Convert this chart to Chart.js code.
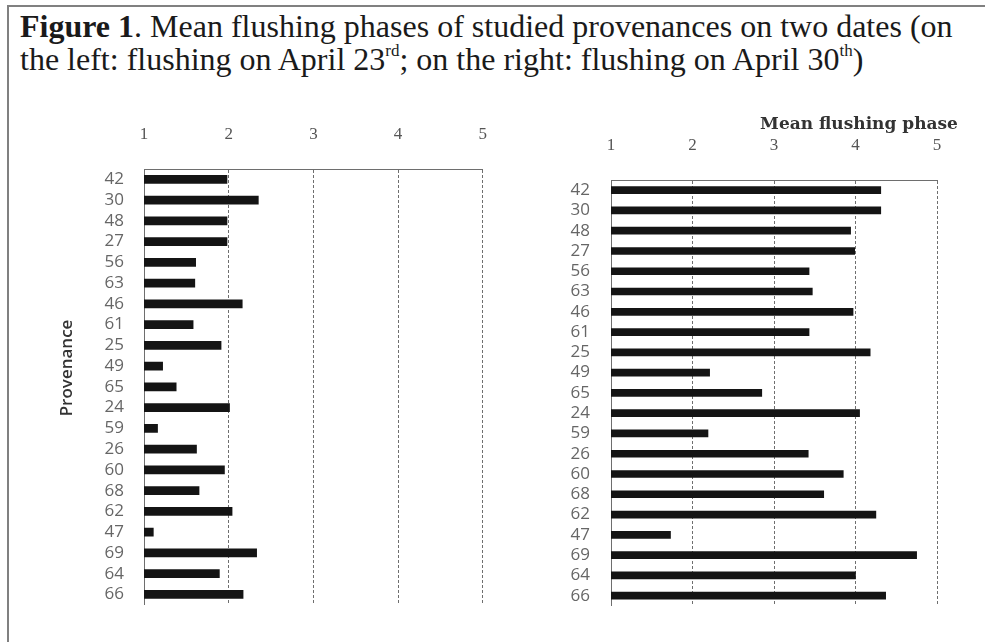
<!DOCTYPE html>
<html>
<head>
<meta charset="utf-8">
<script src="https://cdn.jsdelivr.net/npm/chart.js@4/dist/chart.umd.min.js"></script>
<style>
  html, body { margin: 0; padding: 0; background: #fff; }
  body { width: 985px; height: 642px; position: relative; overflow: hidden; }
  .frame-top { position: absolute; left: 7px; top: 5px; width: 978px; height: 2px; background: #808080; }
  .frame-left { position: absolute; left: 7px; top: 5px; width: 2px; height: 637px; background: #808080; }
  .caption {
    position: absolute; left: 20px; top: 10px;
    font-family: "Liberation Serif", "Times New Roman", serif;
    font-size: 32px; line-height: 33px; color: #1a1a1a; white-space: nowrap;
  }
  .caption sup { font-size: 17px; line-height: 0; vertical-align: 0; position: relative; top: -14px; }
  canvas { position: absolute; }
  #left { left: 0px; top: 90px; }
  #right { left: 520px; top: 90px; }
</style>
</head>
<body>
<div class="frame-top"></div>
<div class="frame-left"></div>
<div class="caption"><b>Figure 1</b>. Mean flushing phases of studied provenances on two dates (on<br>the left: flushing on April 23<sup>rd</sup>; on the right: flushing on April 30<sup>th</sup>)</div>
<canvas id="left" width="511" height="545"></canvas>
<canvas id="right" width="465" height="547"></canvas>
<script>
// Provenances, top to bottom
const provenances = ['42','30','48','27','56','63','46','61','25','49','65','24','59','26','60','68','62','47','69','64','66'];
// Mean flushing phase on April 23rd
const phaseApr23 = [1.98,2.35,1.98,1.98,1.61,1.60,2.16,1.58,1.91,1.22,1.38,2.01,1.16,1.62,1.95,1.65,2.04,1.11,2.33,1.89,2.17];
// Mean flushing phase on April 30th
const phaseApr30 = [4.31,4.31,3.94,3.99,3.43,3.47,3.97,3.43,4.18,2.21,2.85,4.05,2.19,3.42,3.85,3.61,4.25,1.73,4.75,4.00,4.37];
// Phase scale ticks
const phaseTicks = [1,2,3,4,5];

const PHASE_MIN = phaseTicks[0];
const PHASE_MAX = phaseTicks[phaseTicks.length - 1];

// free-standing labels drawn on a chart's canvas
const freeText = {
  id: 'freeText',
  afterDraw(chart, args, opts) {
    if (!opts.items) return;
    const ctx = chart.ctx;
    opts.items.forEach(it => {
      ctx.save();
      ctx.font = it.font;
      ctx.fillStyle = it.color;
      ctx.textAlign = 'center';
      ctx.textBaseline = 'middle';
      ctx.translate(it.x, it.y);
      if (it.rotate) ctx.rotate(it.rotate);
      ctx.fillText(it.text, 0, 0);
      ctx.restore();
    });
  }
};

function makeChart(id, values, cfg) {
  return new Chart(document.getElementById(id), {
    type: 'bar',
    data: {
      labels: provenances,
      datasets: [{
        data: values.map(v => [PHASE_MIN, v]),
        backgroundColor: '#141414',
        borderWidth: 0,
        barThickness: cfg.barThickness,
        categoryPercentage: 1,
        barPercentage: 1
      }]
    },
    options: {
      indexAxis: 'y',
      responsive: false,
      animation: false,
      layout: { padding: cfg.padding },
      plugins: {
        legend: { display: false },
        tooltip: { enabled: false },
        freeText: { items: cfg.texts }
      },
      scales: {
        x: {
          position: 'top',
          min: PHASE_MIN,
          max: PHASE_MAX,
          afterBuildTicks(scale) { scale.ticks = phaseTicks.map(v => ({ value: v })); },
          afterFit(scale) { scale.height = cfg.topAxisHeight; },
          grid: { color: '#6e6e6e', lineWidth: 1, drawTicks: false, drawOnChartArea: true },
          border: { display: true, color: '#6e6e6e', dash: [3, 2] },
          ticks: {
            padding: cfg.xTickPad,
            color: '#555',
            font: { family: '"Liberation Serif", serif', size: 17 }
          }
        },
        y: {
          afterFit(scale) { scale.width = cfg.leftAxisWidth; },
          grid: { display: false, drawTicks: false },
          border: { display: true, color: '#6e6e6e', dash: [3, 2] },
          ticks: {
            padding: cfg.yTickPad,
            color: '#666',
            autoSkip: false,
            font: { family: '"Open Sans", sans-serif', size: 17 }
          }
        }
      }
    },
    plugins: [freeText, {
      id: 'dashGrid',
      beforeDraw(chart) {
        chart.scales.x.options.grid.borderDash = [3, 2];
      }
    }]
  });
}

makeChart('left', phaseApr23, {
  barThickness: 8,
  padding: { left: 0, top: 0, right: 17, bottom: 15 },
  topAxisHeight: 79,
  leftAxisWidth: 144,
  xTickPad: 24,
  yTickPad: 20,
  texts: [{ text: 'Provenance', x: 67, y: 278, rotate: -Math.PI / 2,
            font: '600 17px "Open Sans", sans-serif', color: '#333' }]
});

makeChart('right', phaseApr30, {
  barThickness: 7,
  padding: { left: 0, top: 0, right: 48, bottom: 15 },
  topAxisHeight: 90,
  leftAxisWidth: 91,
  xTickPad: 24,
  yTickPad: 21,
  texts: [{ text: 'Mean flushing phase', x: 339, y: 35,
            font: 'bold 17px "DejaVu Serif", serif', color: '#333' }]
});
</script>
</body>
</html>
